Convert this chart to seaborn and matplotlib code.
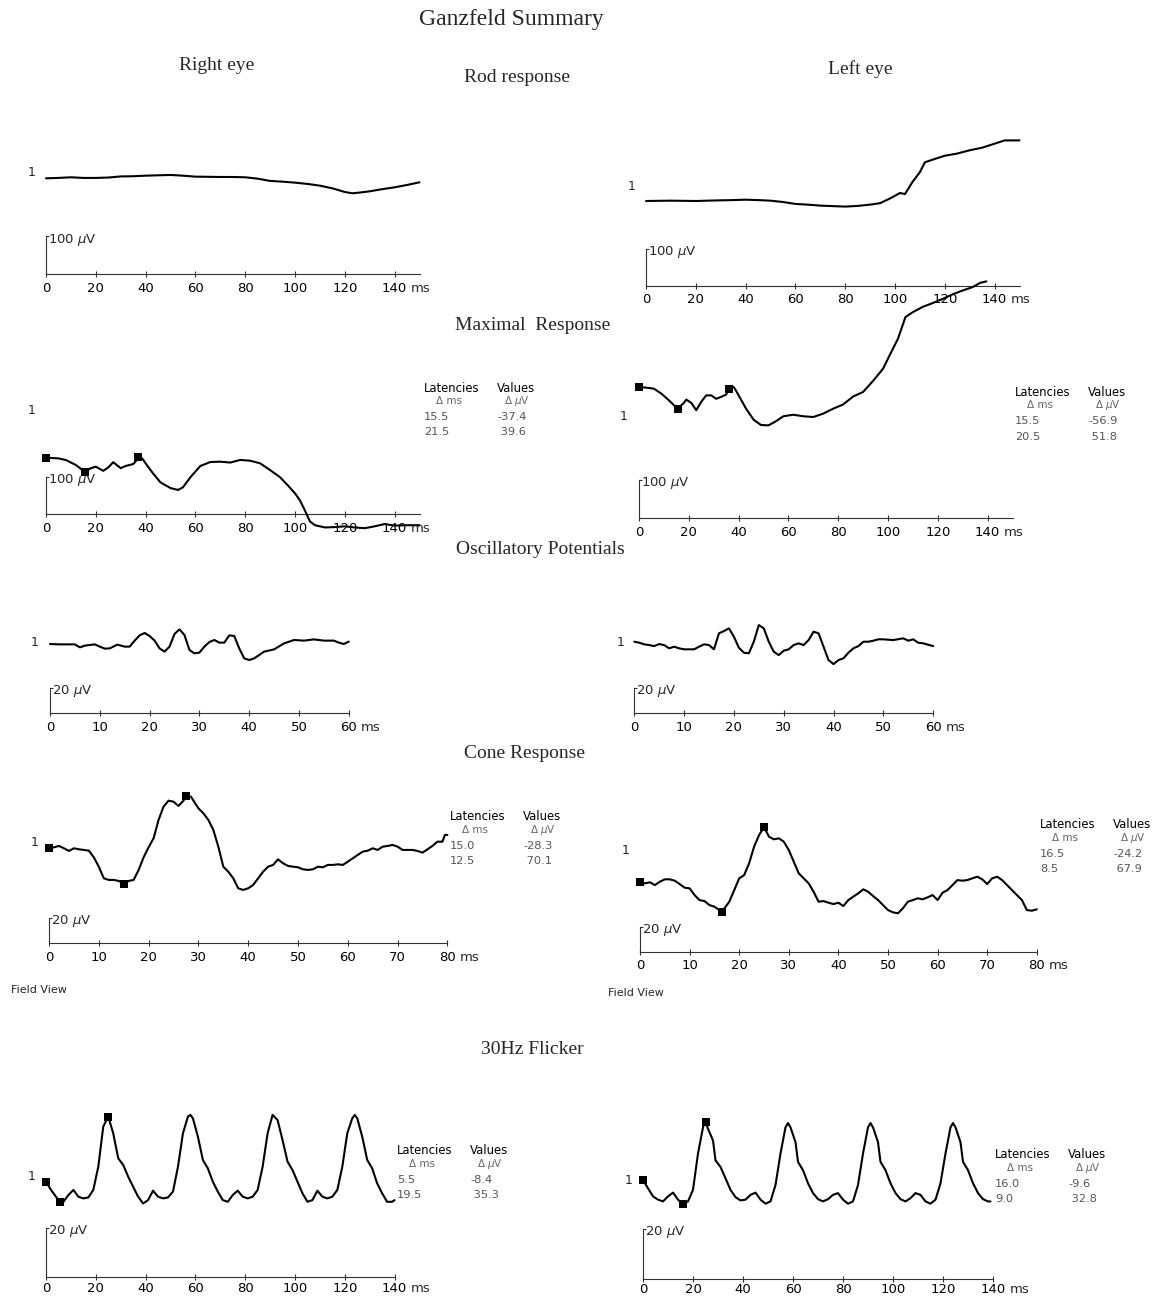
import matplotlib
matplotlib.use("Agg")
import matplotlib.pyplot as plt
import numpy as np
import pandas as pd
import seaborn as sns

sns.set_theme(style="white")
plt.rcParams["font.family"] = ["DejaVu Sans"]
plt.rcParams["mathtext.fontset"] = "dejavusans"

W, H = 1156, 1299

# ---------------- traces (time in ms, amplitude in microvolts, relative to t = 0) -------------
rod_right_ms = [0, 5, 10, 15, 20, 25, 30, 35, 40, 45, 50, 55, 60, 65, 70, 75, 80, 85, 90, 95,
                100, 105, 110, 115, 120, 123, 126, 130, 135, 140, 145, 150]
rod_right_uv = [0, 1, 2.7, 1, 1, 2, 5, 5.5, 7, 8, 8.9, 7, 4.4, 4, 3.5, 3.5, 2.7, -1, -7, -9,
                -11.6, -15, -19.6, -26.7, -36.5, -40, -38, -34.7, -29, -24, -17.8, -10.7]

rod_left_ms = [0, 5, 10, 15, 20, 25, 30, 35, 40, 45, 50, 55, 60, 65, 70, 75, 80, 85, 90, 94,
               98, 102, 104, 107, 110, 112, 115, 120, 125, 130, 135, 140, 144, 150]
rod_left_uv = [0, 0.5, 0.9, 0.5, 0, 1, 1.8, 2.5, 3.6, 2.5, 0.9, -2.7, -8, -10, -12.6, -14, -15.3,
               -13.5, -9.9, -6, 7, 22, 19, 52, 79, 106, 113, 124, 130, 139, 146, 157, 166, 166]

max_right_ms = [0, 5, 8, 12, 15.5, 18, 20, 23, 25, 27, 30, 32, 35, 36, 37, 38, 39, 40, 43, 46, 50,
                53, 55, 58, 62, 66, 70, 74, 78, 82, 86, 90, 94, 97, 100, 102, 104, 106, 108, 112,
                116, 120, 124, 128, 132, 136, 140, 145, 150]
max_right_uv = [0, -1.8, -6.2, -19.5, -37.4, -28, -24, -35, -26, -12, -28, -22, -17, -10, 2.2, 1,
                -5, -15, -42, -66, -81, -86, -79, -52, -22, -11.5, -10.6, -13, -6, -8, -15, -33,
                -52, -73, -95, -114, -141, -170, -180, -186, -185, -183, -186, -188, -183, -177,
                -181, -180, -180]
max_right_lat = [15.5, 21.5]
max_right_val = [-37.4, 39.6]

max_left_ms = [0, 3, 6, 9, 12, 15.5, 18, 19, 21, 23, 25, 27, 29, 31, 33, 35, 36, 37, 38, 39, 40,
               43, 46, 49, 52, 55, 58, 62, 66, 70, 74, 78, 82, 86, 90, 94, 98, 101, 104, 107, 110,
               114, 118, 122, 126, 130, 134, 137, 139.5]
max_left_uv = [0, -1.8, -4.4, -17.5, -35, -56.9, -42, -33, -42, -61, -39, -22, -22, -31, -26, -20,
               -5.1, 1.8, 0, -10, -22, -57, -86, -100, -101, -90, -77, -73, -77, -79, -70, -57,
               -46, -25, -13, 16, 48, 88, 127, 184, 197, 211, 221, 232, 244, 254, 263, 274, 278]
max_left_lat = [15.5, 20.5]
max_left_val = [-56.9, 51.8]

op_right_ms = [0, 2, 5, 6, 7, 9, 10, 11, 12, 13.5, 15, 16, 17, 18, 19, 20, 21, 22, 23, 24, 25, 26,
               27, 28, 29, 30, 31, 32, 33, 34, 35, 36, 37, 38, 39, 40, 41, 42, 43, 45, 47, 49, 51,
               53, 55, 57, 58, 59, 60]
op_right_uv = [0, -0.3, -0.3, -2.7, -1.3, -0.3, -2.1, -3.7, -3.5, -0.5, -2.1, -2.1, 2.7, 6.9, 8.8,
               6.4, 2.7, -3.5, -6.1, -2.1, 8, 11.7, 7.2, -4.8, -7.5, -6.9, -2.1, 1.6, 3.2, 1.1, 1.1,
               6.9, 6.4, -3.5, -11.5, -12.8, -11.5, -8.8, -6.1, -4.3, 0.5, 3.2, 2.7, 3.7, 2.7, 2.7,
               1.1, 0, 1.9]

op_left_ms = [0, 1, 2, 3, 4, 5, 6, 7, 8, 9, 10, 11, 12, 13, 14, 15, 16, 17, 18, 19, 20, 21, 22,
              23, 24, 25, 26, 27, 28, 29, 30, 31, 32, 33, 34, 35, 36, 37, 38, 39, 40, 41, 42, 43,
              44, 45, 46, 47, 48, 49, 50, 52, 54, 55, 56, 57, 58, 60]
op_left_uv = [0, -0.8, -2.1, -2.7, -3.5, -1.9, -2.7, -5.3, -4, -5.3, -6.1, -6.1, -6.1, -4, -2.1,
              -2.7, -6.1, 6.7, 8.5, 10.7, 4, -4.8, -8.8, -9.3, 0, 13.3, 10.7, 0, -8, -10.7, -7.2,
              -6.1, -2.7, -1.3, -2.7, 1.3, 8, 6.7, -4, -14.7, -17.9, -14.7, -13.3, -8.8, -5.3,
              -3.5, 0, 0, 0.8, 1.9, 1.9, 1.3, 2.7, 0.8, 1.9, -0.8, -1.3, -3.5]

cone_right_ms = [0, 1, 2, 3, 4, 5, 6, 7, 8, 9, 10, 11, 12, 13, 14, 15, 16, 17, 18, 19, 20, 21, 22,
                 23, 24, 25, 26, 27, 27.5, 28.5, 30, 31, 32, 33, 34, 35, 36, 37, 38, 39, 40, 41,
                 42, 43, 44, 45, 46, 47, 48, 49, 50, 51, 52, 53, 54, 55, 56, 57, 58, 59, 60, 61,
                 62, 63, 64, 65, 66, 67, 68, 69, 70, 71, 72, 73, 74, 75, 76, 77, 78, 79, 79.5, 80]
cone_right_uv = [0, 0.8, 1.9, 0, -2.1, 0, -0.8, -1.3, -1.9, -7.2, -14.7, -24, -25.3, -25.3, -26.1,
                 -28.3, -26.1, -25.3, -17.3, -7.2, 0.8, 8, 22.7, 33.3, 38.1, 37.3, 33.9, 38.1,
                 41.8, 41.3, 32, 28, 22.7, 14.7, 1.3, -14.7, -18.7, -24, -32, -33.3, -32, -29.3,
                 -24, -18.7, -14.7, -13.3, -8.8, -12, -14.1, -14.7, -15.2, -16.8, -17.3, -16.8,
                 -14.7, -15.2, -13.3, -13.3, -12.8, -13.3, -10.7, -8, -5.3, -2.7, -1.9, 0, -1.3,
                 1.3, 1.9, 2.7, 1.3, -1.3, -1.3, -1.3, -2.1, -3.5, -0.8, 1.9, 5.3, 5.3, 10.7, 10.7]
cone_right_lat = [15.0, 12.5]
cone_right_val = [-28.3, 70.1]

cone_left_ms = [0, 1, 2, 3, 4, 5, 6, 7, 8, 9, 10, 11, 12, 13, 14, 15, 16, 16.5, 18, 19, 20, 21,
                22, 23, 24, 25, 26, 27, 28, 29, 30, 31, 32, 33, 34, 35, 36, 37, 38, 39, 40, 41,
                42, 43, 44, 45, 46, 47, 48, 49, 50, 51, 52, 53, 54, 55, 56, 57, 58, 59, 60, 61,
                62, 63, 64, 65, 66, 67, 68, 69, 70, 71, 72, 73, 74, 75, 76, 77, 78, 79, 80]
cone_left_uv = [0, -1.3, -0.5, -2.7, 0, 1.9, 1.9, 0.8, -1.9, -4.8, -5.3, -10.7, -14.7, -15.5,
                -18.7, -20, -22.7, -24.2, -16, -6.7, 2.7, 5.3, 14.7, 28, 37.3, 43.7, 36, 33.9,
                34.7, 32, 25.3, 16, 6.7, 2.7, -1.3, -8, -16, -15.5, -16.8, -17.9, -16.8, -19.5,
                -14.7, -12, -9.3, -6.1, -8, -11.5, -14.7, -18.7, -22.7, -24.5, -25.3, -21.3, -16,
                -14.7, -13.3, -14.1, -12.5, -10.7, -14.7, -8.8, -6.7, -2.7, 1.3, 0.8, 1.3, 2.7, 4,
                1.9, -1.9, 2.7, 4, 1.3, -2.7, -6.7, -10.7, -14.7, -22.7, -23.2, -22.1]
cone_left_lat = [16.5, 8.5]
cone_left_val = [-24.2, 67.9]

flick_right_ms = [0, 2, 4, 5.5, 7, 9, 11, 13, 15, 17, 19, 21, 23, 25, 27, 29, 31, 33, 35, 37, 39,
                  41, 43, 45, 47, 49, 51, 53, 55, 57, 58, 59, 61, 63, 65, 67, 69, 71, 73, 75, 77,
                  79, 81, 83, 85, 87, 89, 91, 93, 95, 97, 99, 101, 103, 105, 107, 109, 111, 113,
                  115, 117, 119, 121, 123, 124, 125, 127, 129, 131, 133, 135, 137, 139, 140]
flick_right_uv = [0, -3.4, -6.2, -8.4, -8.3, -5.5, -3.4, -6.2, -6.9, -6.5, -3.4, 6.2, 22.8, 26.9,
                  20, 9.7, 6.9, 2.1, -2.1, -6.2, -9, -7.6, -3.7, -6.2, -6.9, -6.5, -4.1, 6.2, 20,
                  26.9, 27.6, 26.2, 18.6, 9, 5.5, 0, -4.1, -7.6, -8.3, -5.5, -3.7, -6.2, -6.9,
                  -6.2, -3.4, 6.2, 20, 27.6, 25.5, 17.2, 8.3, 4.8, 0, -4.8, -8.3, -7.6, -3.7, -6.2,
                  -6.9, -6.2, -3.4, 6.2, 20, 26.2, 27.6, 26.2, 18.6, 9, 5.5, -0.7, -4.8, -8.3,
                  -8.3, -7.6]
flick_right_lat = [5.5, 19.5]
flick_right_val = [-8.4, 35.3]

flick_left_ms = [0, 2, 4, 6, 8, 10, 12, 14, 16, 18, 20, 22, 24, 25, 26, 28, 29, 31, 33, 35, 37, 39,
                 41, 43, 45, 47, 49, 51, 53, 55, 57, 58, 59, 61, 62, 64, 66, 68, 70, 72, 74, 76,
                 78, 80, 82, 84, 86, 88, 90, 91, 92, 94, 95, 97, 99, 101, 103, 105, 107, 109, 111,
                 113, 115, 117, 119, 121, 123, 124, 125, 127, 128, 130, 132, 134, 136, 138, 139]
flick_left_uv = [0, -3.3, -6.5, -7.8, -8.5, -6.5, -5, -7.8, -9.6, -8.5, -3.9, 10.5, 20.9, 23.2,
                 20.3, 15.7, 7.8, 5.2, 0.7, -3.9, -6.8, -8.1, -7.8, -5.9, -5, -7.8, -9.4, -8.5, -2,
                 10.5, 20.9, 22.6, 20.9, 15, 7.2, 3.9, -1.3, -5.2, -7.6, -8.5, -7.6, -5.9, -5.2,
                 -7.8, -9.4, -8.5, -2, 10.5, 20.9, 22.6, 20.9, 15, 7.2, 3.9, -1.3, -5.2, -7.6,
                 -8.5, -7.2, -5.2, -5.9, -8.5, -9.4, -7.8, -1.3, 10.5, 20.9, 22.6, 20.9, 15, 7.2,
                 3.9, -1.3, -5.2, -7.6, -8.5, -8.5]
flick_left_lat = [16.0, 9.0]
flick_left_val = [-9.6, 32.8]

ticks_150 = [0, 20, 40, 60, 80, 100, 120, 140]
ticks_60 = [0, 10, 20, 30, 40, 50, 60]
ticks_80 = [0, 10, 20, 30, 40, 50, 60, 70, 80]

fig = plt.figure(figsize=(W / 100, H / 100), dpi=100)
fig.patch.set_facecolor("white")

SERIF = ["Liberation Serif", "DejaVu Serif"]
AXC = "#333333"


def fx(x):
    return x / W


def fy(y):
    return 1 - y / H


def panel(t, v, x0, axis_y, base_y, ms_px, uv_px, xmax, xticks, bar_uv, one_xy,
          lat=None, val=None, pad=3.0):
    ax = fig.add_axes([fx(x0), fy(axis_y), xmax * ms_px / W, (axis_y - base_y) / H])
    ax.patch.set_visible(False)
    ymin = -(axis_y - base_y) / uv_px
    df = pd.DataFrame({"ms": t, "uV": v})
    sns.lineplot(data=df, x="ms", y="uV", ax=ax, color="black", linewidth=1.5,
                 estimator=None, clip_on=False, zorder=3)
    if lat is not None:
        mk = pd.DataFrame({"ms": [0.0, lat[0], lat[0] + lat[1]],
                           "uV": [0.0, val[0], val[0] + val[1]]})
        sns.scatterplot(data=mk, x="ms", y="uV", ax=ax, marker="s", s=26, color="black",
                        linewidth=0, clip_on=False, zorder=4)
    ax.set_xlim(0, xmax)
    ax.set_ylim(ymin, 0)
    ax.set_xlabel("")
    ax.set_ylabel("")
    for s in ("top", "right"):
        ax.spines[s].set_visible(False)
    for s in ("left", "bottom"):
        ax.spines[s].set_color(AXC)
        ax.spines[s].set_linewidth(0.8)
    ax.spines["left"].set_bounds(ymin, ymin + bar_uv)
    ax.set_xticks(xticks)
    ax.set_xticklabels([str(x) for x in xticks])
    ax.set_yticks([ymin + bar_uv])
    ax.set_yticklabels([])
    ax.tick_params(axis="x", direction="inout", length=5, width=0.8, color=AXC, pad=pad,
                   labelsize=9.5, labelcolor="black", bottom=True)
    ax.tick_params(axis="y", direction="in", length=2, width=0.8, color=AXC, left=True)
    ax.annotate(f"{bar_uv} $\\mu$V", xy=(0, ymin + bar_uv), xycoords="data",
                xytext=(2, -3), textcoords="offset pixels", ha="left", va="center",
                fontsize=9.5, annotation_clip=False)
    last = str(xticks[-1])
    ax.annotate("ms", xy=(xticks[-1], ymin), xycoords="data",
                xytext=(len(last) * 4.2 + 4, -(3.5 + pad * 1.39)), textcoords="offset pixels",
                ha="left", va="top", fontsize=9.5, annotation_clip=False)
    fig.text(fx(one_xy[0]), fy(one_xy[1]), "1", ha="center", va="center", fontsize=9)
    return ax


def latency_table(x, y, lat, val):
    vx = x + 73
    fig.text(fx(x), fy(y), "Latencies", ha="left", va="center", fontsize=8.4, color="black")
    fig.text(fx(vx), fy(y), "Values", ha="left", va="center", fontsize=8.4, color="black")
    fig.text(fx(x + 12), fy(y + 13), "Δ ms", ha="left", va="center", fontsize=7.5,
             color="#666666")
    fig.text(fx(vx + 7), fy(y + 13), "Δ $\\mu$V", ha="left", va="center", fontsize=7.5,
             color="#666666")
    for i in range(2):
        fig.text(fx(x), fy(y + 29 + 15.5 * i), f"{lat[i]:.1f}", ha="left", va="center",
                 fontsize=8.2, color="#555555")
        txt = f"{val[i]:.1f}" if val[i] < 0 else f" {val[i]:.1f}"
        fig.text(fx(vx), fy(y + 29 + 15.5 * i), txt, ha="left", va="center", fontsize=8.2,
                 color="#555555")


# ---------------- headings ----------------
fig.text(fx(511), fy(20), "Ganzfeld Summary", ha="center", va="center", fontsize=17,
         family=SERIF)
fig.text(fx(217), fy(66), "Right eye", ha="center", va="center", fontsize=14, family=SERIF)
fig.text(fx(860), fy(69), "Left eye", ha="center", va="center", fontsize=14, family=SERIF)
for label, xx, yy in [("Rod response", 517, 77), ("Maximal  Response", 533, 326),
                      ("Oscillatory Potentials", 540, 550), ("Cone Response", 524, 754),
                      ("30Hz Flicker", 532, 1049)]:
    fig.text(fx(xx), fy(yy), label, ha="center", va="center", fontsize=14, family=SERIF)

# ---------------- rod response ----------------
panel(rod_right_ms, rod_right_uv, 46, 274, 178.3, 2.49, 0.375, 150, ticks_150, 100, (32, 173))
panel(rod_left_ms, rod_left_uv, 646, 285.7, 201, 2.49, 0.365, 150, ticks_150, 100, (632, 186))

# ---------------- maximal response ----------------
panel(max_right_ms, max_right_uv, 46, 514.3, 457.7, 2.49, 0.375, 150, ticks_150, 100, (32, 411),
      max_right_lat, max_right_val)
latency_table(424, 388, max_right_lat, max_right_val)
panel(max_left_ms, max_left_uv, 639, 518.3, 387, 2.49, 0.38, 150, ticks_150, 100, (624, 417),
      max_left_lat, max_left_val)
latency_table(1015, 392, max_left_lat, max_left_val)

# ---------------- oscillatory potentials ----------------
panel(op_right_ms, op_right_uv, 50, 713.3, 644, 4.98, 1.25, 60, ticks_60, 20, (35, 643))
panel(op_left_ms, op_left_uv, 634.3, 713.3, 641.7, 4.98, 1.25, 60, ticks_60, 20, (621, 643))

# ---------------- cone response ----------------
panel(cone_right_ms, cone_right_uv, 49, 943.3, 848.3, 4.98, 1.25, 80, ticks_80, 20, (35, 843),
      cone_right_lat, cone_right_val)
latency_table(450, 817, cone_right_lat, cone_right_val)
panel(cone_left_ms, cone_left_uv, 640, 951.7, 881.7, 4.96, 1.25, 80, ticks_80, 20, (626, 850),
      cone_left_lat, cone_left_val)
latency_table(1040, 825, cone_left_lat, cone_left_val)
fig.text(fx(11), fy(990), "Field View", ha="left", va="center", fontsize=8)
fig.text(fx(608), fy(993), "Field View", ha="left", va="center", fontsize=8)

# ---------------- 30 Hz flicker ----------------
panel(flick_right_ms, flick_right_uv, 46, 1276.7, 1181.7, 2.49, 2.42, 140, ticks_150, 20,
      (32, 1176), flick_right_lat, flick_right_val, pad=1.5)
latency_table(397, 1151, flick_right_lat, flick_right_val)
panel(flick_left_ms, flick_left_uv, 643, 1279, 1180, 2.5, 2.52, 140, ticks_150, 20,
      (629, 1180), flick_left_lat, flick_left_val, pad=0.5)
latency_table(995, 1155, flick_left_lat, flick_left_val)

fig.savefig("out.png", dpi=100, facecolor="white")
